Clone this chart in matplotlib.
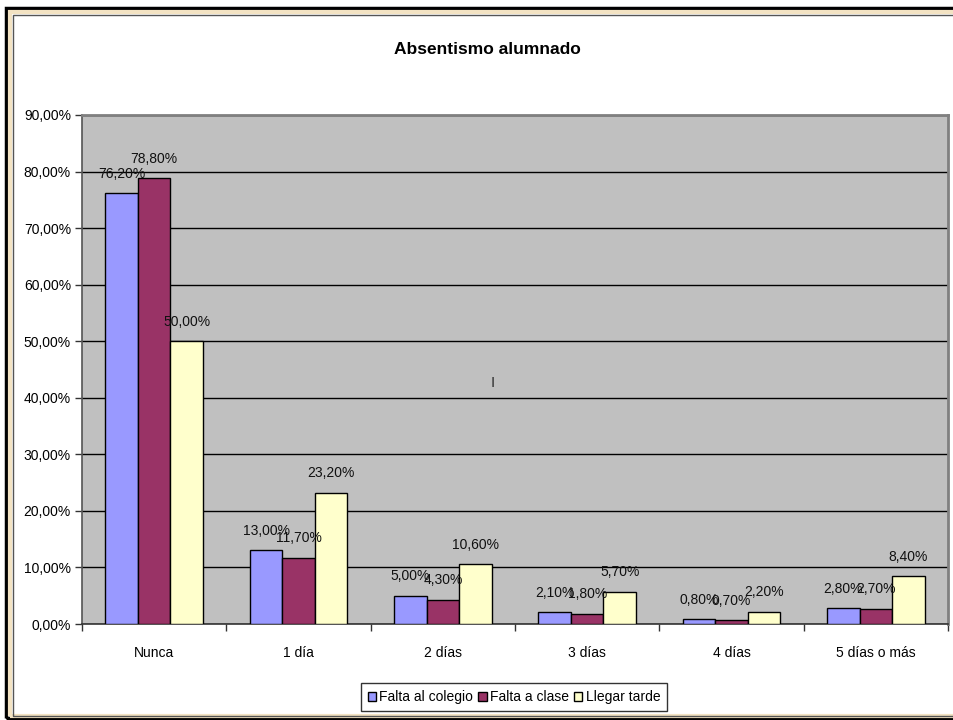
import matplotlib
matplotlib.use("Agg")
import matplotlib.pyplot as plt
import numpy as np
from matplotlib.patches import Rectangle
from matplotlib.ticker import FixedLocator

categories = ["Nunca", "1 día", "2 días", "3 días", "4 días", "5 días o más"]
series_names = ["Falta al colegio", "Falta a clase", "Llegar tarde"]
falta_colegio = [76.2, 13.0, 5.0, 2.1, 0.8, 2.8]
falta_clase = [78.8, 11.7, 4.3, 1.8, 0.7, 2.7]
llegar_tarde = [50.0, 23.2, 10.6, 5.7, 2.2, 8.4]
yticks = [0, 10, 20, 30, 40, 50, 60, 70, 80, 90]
title = "Absentismo alumnado"

colors = ["#9999FF", "#993366", "#FFFFCC"]

plt.rcParams['font.family'] = ['Liberation Sans', 'DejaVu Sans']

W, H = 954, 720
fig = plt.figure(figsize=(W / 100, H / 100), dpi=100)
fig.patch.set_facecolor("white")

ax = fig.add_axes([82 / W, 1 - 624 / H, (948 - 82) / W, (624 - 115) / H])
ax.set_facecolor("#C0C0C0")

x = np.arange(len(categories))
bw = 0.225
data = [falta_colegio, falta_clase, llegar_tarde]
for i, (vals, name, c) in enumerate(zip(data, series_names, colors)):
    pos = x + (i - 1) * bw
    ax.bar(pos, vals, width=bw, color=c, edgecolor="black", linewidth=1.0,
           label=name, zorder=3)
    for p, v in zip(pos, vals):
        ax.annotate(f"{v:.2f}%".replace(".", ","), (p, v), xytext=(0, 9),
                    textcoords="offset points", ha="center", va="bottom",
                    fontsize=10, color="#111111", zorder=4)

ax.set_xlim(-0.5, len(categories) - 0.5)
ax.set_ylim(0, 90)
ax.set_yticks(yticks)
ax.set_yticklabels([f"{v:.2f}%".replace(".", ",") for v in yticks], fontsize=10)
ax.yaxis.grid(True, color="black", linewidth=1.0, zorder=1)
ax.set_axisbelow(True)

ax.set_xticks(x)
ax.set_xticklabels(categories, fontsize=10)
ax.tick_params(axis="x", which="major", length=0, pad=16)
ax.xaxis.set_minor_locator(FixedLocator(np.arange(-0.5, len(categories), 1.0)))
ax.tick_params(axis="x", which="minor", length=5, width=1, color="#333333")
ax.tick_params(axis="y", length=5, width=1, color="#333333", pad=3)

for s in ["top", "right"]:
    ax.spines[s].set_color("#808080")
    ax.spines[s].set_linewidth(2)
ax.spines["left"].set_color("#555555")
ax.spines["bottom"].set_color("#333333")
ax.spines["left"].set_linewidth(1.2)
ax.spines["bottom"].set_linewidth(1.2)

fig.text(487 / W, 1 - 50 / H, title, ha="center", va="center",
         fontsize=12.5, fontweight="bold")

fig.text(493 / W, 1 - 383 / H, "I", ha="center", va="center", fontsize=11, color="#333333")

leg = fig.legend(loc="center", bbox_to_anchor=(514 / W, 1 - 697 / H), ncol=3,
                 frameon=True, fancybox=False, edgecolor="black", fontsize=10,
                 handlelength=0.6, handleheight=0.6, handletextpad=0.25,
                 columnspacing=0.35, borderpad=0.5, borderaxespad=0.2)
leg.get_frame().set_linewidth(1.0)

# outer frame
fig.add_artist(Rectangle((6.5 / W, (H - 717.5) / H), (W + 10) / W, (717.5 - 7.5) / H,
                         transform=fig.transFigure, fill=False, edgecolor="black",
                         linewidth=2.5))
fig.add_artist(Rectangle((10.5 / W, (H - 716) / H), (W + 10) / W, (716 - 12) / H,
                         transform=fig.transFigure, fill=False, edgecolor="#F3E3C3",
                         linewidth=3))
fig.add_artist(Rectangle((13.5 / W, (H - 716) / H), (W + 10) / W, (716 - 15) / H,
                         transform=fig.transFigure, fill=False, edgecolor="#555555",
                         linewidth=1))

fig.savefig("out.png", dpi=100)
